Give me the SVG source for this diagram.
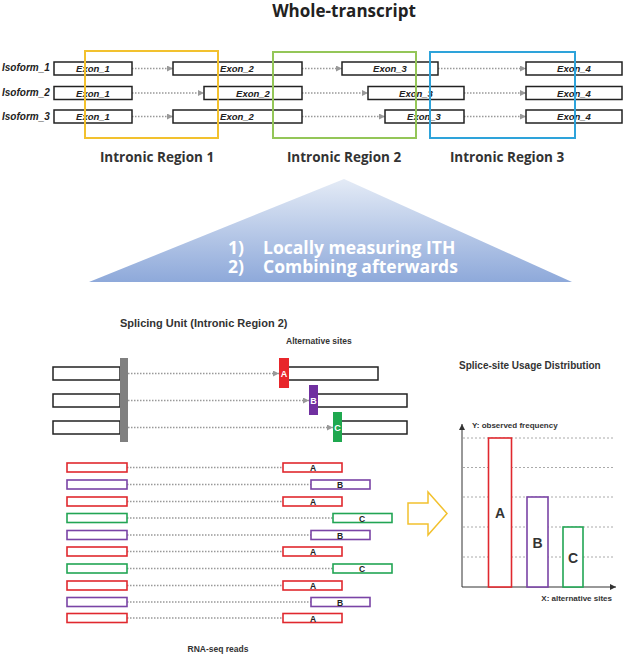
<svg xmlns="http://www.w3.org/2000/svg" width="625" height="657" viewBox="0 0 625 657">
<defs>
<linearGradient id="tri" x1="0" y1="0" x2="0" y2="1">
<stop offset="0" stop-color="#e4ebf6"/>
<stop offset="1" stop-color="#8ea9da"/>
</linearGradient>
<marker id="ah" viewBox="0 0 6 6" refX="6" refY="3" markerWidth="6" markerHeight="6" markerUnits="userSpaceOnUse" orient="auto">
<path d="M0,0 L6,3 L0,6 Z" fill="#999"/>
</marker>
<marker id="axh" viewBox="0 0 6 6" refX="6" refY="3" markerWidth="6" markerHeight="6" markerUnits="userSpaceOnUse" orient="auto">
<path d="M0,0 L6,3 L0,6 Z" fill="#333"/>
</marker>
</defs>
<style>
.exon{fill:#fff;stroke:#222;stroke-width:1.5}
.et{font-family:"Liberation Sans",Arial,sans-serif;font-size:9.5px;font-weight:bold;font-style:italic;fill:#222;text-anchor:middle}
.iso{font-family:"Liberation Sans",Arial,sans-serif;font-size:10px;font-weight:bold;font-style:italic;fill:#222}
.dot{stroke:#999;stroke-width:1.5;stroke-dasharray:1.5 1.5;fill:none}
.reg{font-family:"Open Sans","Noto Sans",sans-serif;font-size:13.5px;font-weight:bold;fill:#333;text-anchor:middle}
.tri{font-family:"Open Sans","Noto Sans",sans-serif;font-size:17.5px;font-weight:bold;fill:#fff}
.lab{font-family:"Liberation Sans",Arial,sans-serif;font-weight:bold;fill:#333}
.rd{fill:#fff;stroke-width:1.6}
.rt{font-family:"Liberation Sans",Arial,sans-serif;font-size:8.5px;font-weight:bold;fill:#222;text-anchor:middle}
.grid{stroke:#aaa;stroke-width:1;stroke-dasharray:2 2}
.red{stroke:#e0282e}.pur{stroke:#7a44a6}.grn{stroke:#22a554}
</style>
<rect width="625" height="657" fill="#fff"/>

<text x="344" y="17" font-family="'Open Sans','Noto Sans',sans-serif" font-size="17" font-weight="bold" fill="#222" text-anchor="middle">Whole-transcript</text>

<g id="isoform-labels">
<text class="iso" x="2" y="71">Isoform_1</text>
<text class="iso" x="2" y="96">Isoform_2</text>
<text class="iso" x="2" y="120">Isoform_3</text>
</g>

<g id="connectors-top">
<line class="dot" x1="132" y1="68.5" x2="173" y2="68.5" marker-end="url(#ah)"/>
<line class="dot" x1="302" y1="68.5" x2="342" y2="68.5" marker-end="url(#ah)"/>
<line class="dot" x1="438" y1="68.5" x2="526" y2="68.5" marker-end="url(#ah)"/>
<line class="dot" x1="132" y1="93" x2="204" y2="93" marker-end="url(#ah)"/>
<line class="dot" x1="302" y1="93" x2="368" y2="93" marker-end="url(#ah)"/>
<line class="dot" x1="464" y1="93" x2="526" y2="93" marker-end="url(#ah)"/>
<line class="dot" x1="132" y1="116.5" x2="173" y2="116.5" marker-end="url(#ah)"/>
<line class="dot" x1="302" y1="116.5" x2="385" y2="116.5" marker-end="url(#ah)"/>
<line class="dot" x1="464" y1="116.5" x2="526" y2="116.5" marker-end="url(#ah)"/>
</g>

<g id="isoform1">
<rect class="exon" x="54" y="62" width="78" height="13"/><text class="et" x="93" y="72">Exon_1</text>
<rect class="exon" x="173" y="62" width="129" height="13"/><text class="et" x="237" y="72">Exon_2</text>
<rect class="exon" x="342" y="62" width="96" height="13"/><text class="et" x="390" y="72">Exon_3</text>
<rect class="exon" x="526" y="62" width="96" height="13"/><text class="et" x="574" y="72">Exon_4</text>
</g>
<g id="isoform2">
<rect class="exon" x="54" y="86.5" width="78" height="13"/><text class="et" x="93" y="96.5">Exon_1</text>
<rect class="exon" x="204" y="86.5" width="98" height="13"/><text class="et" x="253" y="96.5">Exon_2</text>
<rect class="exon" x="368" y="86.5" width="96" height="13"/><text class="et" x="416" y="96.5">Exon_3</text>
<rect class="exon" x="526" y="86.5" width="96" height="13"/><text class="et" x="574" y="96.5">Exon_4</text>
</g>
<g id="isoform3">
<rect class="exon" x="54" y="110" width="78" height="13"/><text class="et" x="93" y="120">Exon_1</text>
<rect class="exon" x="173" y="110" width="129" height="13"/><text class="et" x="237" y="120">Exon_2</text>
<rect class="exon" x="385" y="110" width="79" height="13"/><text class="et" x="424" y="120">Exon_3</text>
<rect class="exon" x="526" y="110" width="96" height="13"/><text class="et" x="574" y="120">Exon_4</text>
</g>

<g id="region1">
<rect x="85" y="51" width="133" height="87" fill="none" stroke="#f2c12e" stroke-width="2"/>
<text class="reg" x="157" y="162">Intronic Region 1</text>
</g>
<g id="region2">
<rect x="273" y="52" width="143" height="86" fill="none" stroke="#94c658" stroke-width="2"/>
<text class="reg" x="344" y="162">Intronic Region 2</text>
</g>
<g id="region3">
<rect x="430" y="52" width="145" height="86" fill="none" stroke="#2ea3da" stroke-width="2"/>
<text class="reg" x="507" y="162">Intronic Region 3</text>
</g>

<g id="triangle">
<polygon points="344,179 89,282 572,282" fill="url(#tri)"/>
<text class="tri" x="228" y="253.5">1)<tspan x="263">Locally measuring ITH</tspan></text>
<text class="tri" x="228" y="272.5">2)<tspan x="263">Combining afterwards</tspan></text>
</g>

<text class="lab" x="120" y="327" font-size="11">Splicing Unit (Intronic Region 2)</text>
<text class="lab" x="286" y="344" font-size="8.5">Alternative sites</text>

<g id="connectors-unit">
<line class="dot" x1="128" y1="373.5" x2="279" y2="373.5" marker-end="url(#ah)"/>
<line class="dot" x1="128" y1="400.5" x2="309" y2="400.5" marker-end="url(#ah)"/>
<line class="dot" x1="128" y1="427.5" x2="333" y2="427.5" marker-end="url(#ah)"/>
</g>
<g id="unit-left">
<rect class="exon" x="53" y="367" width="67" height="13"/>
<rect class="exon" x="53" y="394" width="67" height="13"/>
<rect class="exon" x="53" y="421" width="67" height="13"/>
<rect x="120" y="358" width="8" height="84" fill="#808080"/>
</g>
<g id="unit-A">
<rect class="exon" x="288" y="367" width="90" height="13"/>
<rect x="279" y="358" width="10" height="30" fill="#e8262b"/>
<text x="284" y="377" font-family="'Liberation Sans',Arial,sans-serif" font-size="9" font-weight="bold" fill="#fff" text-anchor="middle">A</text>
</g>
<g id="unit-B">
<rect class="exon" x="317" y="394" width="90" height="13"/>
<rect x="309" y="385" width="9" height="30" fill="#7030a0"/>
<text x="313.5" y="404" font-family="'Liberation Sans',Arial,sans-serif" font-size="9" font-weight="bold" fill="#fff" text-anchor="middle">B</text>
</g>
<g id="unit-C">
<rect class="exon" x="341" y="421" width="66" height="13"/>
<rect x="333" y="412" width="9" height="30" fill="#1fa84f"/>
<text x="337.5" y="431" font-family="'Liberation Sans',Arial,sans-serif" font-size="9" font-weight="bold" fill="#fff" text-anchor="middle">C</text>
</g>

<g id="connectors-reads">
<line class="dot" x1="127" y1="467.5" x2="283" y2="467.5"/>
<line class="dot" x1="127" y1="484.5" x2="311" y2="484.5"/>
<line class="dot" x1="127" y1="501.5" x2="283" y2="501.5"/>
<line class="dot" x1="127" y1="518" x2="333" y2="518"/>
<line class="dot" x1="127" y1="535" x2="311" y2="535"/>
<line class="dot" x1="127" y1="551.5" x2="283" y2="551.5"/>
<line class="dot" x1="127" y1="568.5" x2="333" y2="568.5"/>
<line class="dot" x1="127" y1="585.5" x2="283" y2="585.5"/>
<line class="dot" x1="127" y1="602" x2="311" y2="602"/>
<line class="dot" x1="127" y1="618" x2="283" y2="618"/>
</g>
<g id="reads">
<rect class="rd red" x="67" y="463" width="60" height="9"/><rect class="rd red" x="283" y="463" width="59" height="9"/><text class="rt" x="313" y="471">A</text>
<rect class="rd pur" x="67" y="480" width="60" height="9"/><rect class="rd pur" x="311" y="480" width="59" height="9"/><text class="rt" x="340" y="488">B</text>
<rect class="rd red" x="67" y="497" width="60" height="9"/><rect class="rd red" x="283" y="497" width="59" height="9"/><text class="rt" x="313" y="505">A</text>
<rect class="rd grn" x="67" y="513.5" width="60" height="9"/><rect class="rd grn" x="333" y="513.5" width="59" height="9"/><text class="rt" x="362" y="521.5">C</text>
<rect class="rd pur" x="67" y="530.5" width="60" height="9"/><rect class="rd pur" x="311" y="530.5" width="59" height="9"/><text class="rt" x="340" y="538.5">B</text>
<rect class="rd red" x="67" y="547" width="60" height="9"/><rect class="rd red" x="283" y="547" width="59" height="9"/><text class="rt" x="313" y="555">A</text>
<rect class="rd grn" x="67" y="564" width="60" height="9"/><rect class="rd grn" x="333" y="564" width="59" height="9"/><text class="rt" x="362" y="572">C</text>
<rect class="rd red" x="67" y="581" width="60" height="9"/><rect class="rd red" x="283" y="581" width="59" height="9"/><text class="rt" x="313" y="589">A</text>
<rect class="rd pur" x="67" y="597.5" width="60" height="9"/><rect class="rd pur" x="311" y="597.5" width="59" height="9"/><text class="rt" x="340" y="605.5">B</text>
<rect class="rd red" x="67" y="613.5" width="60" height="9"/><rect class="rd red" x="283" y="613.5" width="59" height="9"/><text class="rt" x="313" y="621.5">A</text>
</g>
<text class="lab" x="218" y="652" font-size="8.5" text-anchor="middle">RNA-seq reads</text>

<g id="arrow">
<polygon points="408,503 428,503 428,492 447,513.5 428,535 428,524 408,524" fill="#fff" stroke="#f2c12e" stroke-width="1.5"/>
</g>

<g id="chart">
<text class="lab" x="459" y="369" font-size="10">Splice-site Usage Distribution</text>
<line class="grid" x1="463" y1="438" x2="615" y2="438"/>
<line class="grid" x1="463" y1="467.5" x2="615" y2="467.5"/>
<line class="grid" x1="463" y1="497" x2="615" y2="497"/>
<line class="grid" x1="463" y1="527" x2="615" y2="527"/>
<line class="grid" x1="463" y1="557" x2="615" y2="557"/>
<line x1="462" y1="587" x2="462" y2="424" stroke="#333" stroke-width="1" marker-end="url(#axh)"/>
<line x1="462" y1="587" x2="616" y2="587" stroke="#333" stroke-width="1" marker-end="url(#axh)"/>
<text class="lab" x="472" y="428" font-size="8">Y: observed frequency</text>
<text class="lab" x="612" y="601" font-size="8" text-anchor="end">X: alternative sites</text>
<rect x="488.5" y="438" width="23" height="149" fill="#fff" stroke="#e0282e" stroke-width="1.6"/>
<rect x="527" y="497" width="21" height="90" fill="#fff" stroke="#7a44a6" stroke-width="1.6"/>
<rect x="563" y="527" width="20" height="60" fill="#fff" stroke="#22a554" stroke-width="1.6"/>
<text class="lab" x="500" y="518" font-size="14" text-anchor="middle" fill="#222">A</text>
<text class="lab" x="537.5" y="548" font-size="14" text-anchor="middle" fill="#222">B</text>
<text class="lab" x="573" y="563" font-size="14" text-anchor="middle" fill="#222">C</text>
</g>
</svg>
